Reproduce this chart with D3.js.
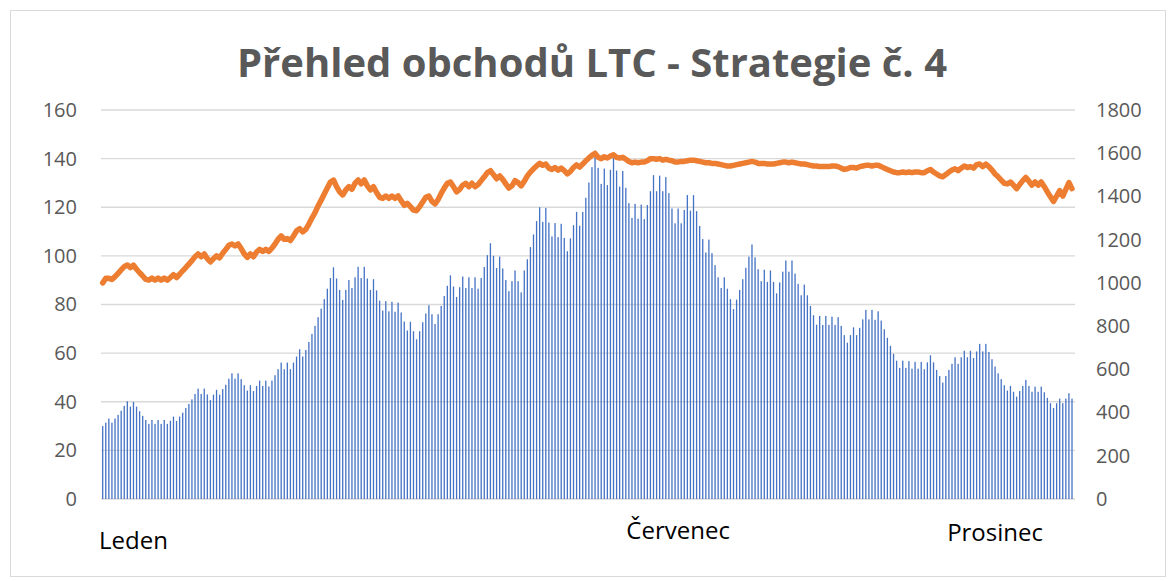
<!DOCTYPE html>
<html>
<head>
<meta charset="utf-8">
<script src="https://cdn.jsdelivr.net/npm/d3@7"></script>
<style>
  html, body { margin: 0; padding: 0; background: #fff; }
  svg { display: block; }
</style>
</head>
<body>
<svg id="chart" width="1171" height="581"></svg>
<script>
// ---------- DATA ----------
const title = "Přehled obchodů LTC - Strategie č. 4";

// LTC price (left axis), one value per day
const priceValues = [
  30.0, 31.4, 33.1, 31.4, 33.1, 34.6, 36.3, 38.3, 40.2, 38.0,
  39.9, 38.0, 36.1, 34.2, 32.5, 30.9, 32.5, 30.9, 32.5, 30.9,
  32.5, 30.9, 32.2, 33.9, 32.1, 33.9, 35.5, 37.4, 39.1, 41.0,
  43.2, 45.4, 43.2, 45.4, 43.0, 40.7, 42.9, 44.9, 42.9, 45.2,
  47.0, 49.5, 51.7, 49.5, 51.7, 49.3, 46.8, 44.6, 46.8, 44.4,
  46.5, 48.7, 46.5, 48.7, 46.3, 48.7, 50.9, 53.4, 56.1, 53.4,
  56.1, 53.4, 56.1, 58.6, 61.6, 58.6, 61.3, 64.6, 67.9, 71.2,
  74.8, 78.3, 82.2, 86.5, 90.9, 95.3, 90.7, 86.0, 81.9, 86.0,
  90.1, 86.8, 91.2, 95.5, 90.9, 95.5, 90.7, 86.0, 90.4, 85.8,
  81.6, 77.5, 81.4, 77.2, 81.1, 77.0, 80.8, 76.7, 73.0, 69.3,
  72.9, 69.0, 65.7, 69.0, 72.7, 76.3, 79.7, 76.0, 72.0, 76.0,
  79.4, 83.5, 87.7, 92.0, 87.4, 83.1, 87.1, 91.5, 86.8, 91.2,
  86.8, 91.2, 86.5, 90.9, 95.4, 100.3, 105.2, 100.0, 95.0, 99.7,
  94.8, 90.1, 85.5, 89.6, 94.0, 89.6, 85.0, 94.0, 98.6, 103.6,
  108.8, 114.3, 120.0, 114.0, 119.7, 113.7, 108.0, 113.5, 107.7, 113.2,
  107.4, 101.9, 107.2, 112.6, 118.1, 112.4, 118.1, 123.9, 130.2, 136.5,
  143.3, 136.2, 129.6, 135.9, 129.1, 135.4, 141.7, 135.1, 128.5, 134.9,
  128.0, 121.7, 115.6, 121.4, 115.3, 121.1, 115.1, 120.9, 126.6, 133.2,
  126.6, 133.0, 126.6, 132.4, 125.8, 119.5, 113.4, 119.5, 113.4, 118.9,
  125.0, 118.6, 125.0, 118.4, 112.3, 106.9, 101.4, 106.7, 101.1, 96.2,
  91.2, 86.8, 91.2, 86.5, 82.2, 78.1, 82.0, 86.0, 90.4, 95.1,
  99.7, 104.7, 99.4, 94.5, 89.6, 94.3, 89.3, 94.0, 89.3, 84.6,
  89.1, 93.5, 98.1, 93.5, 98.1, 92.7, 88.5, 83.8, 88.2, 83.8,
  79.4, 75.6, 71.7, 75.3, 71.6, 75.3, 71.6, 75.0, 71.6, 74.8,
  71.2, 67.4, 64.3, 67.4, 70.6, 67.4, 70.4, 73.9, 77.8, 73.9,
  77.8, 73.7, 77.2, 73.4, 69.8, 66.3, 63.0, 59.7, 56.9, 53.9,
  56.9, 53.9, 56.7, 53.6, 56.4, 53.6, 56.4, 53.4, 56.2, 59.1,
  56.2, 53.1, 50.6, 47.9, 50.6, 53.1, 55.6, 58.3, 55.6, 58.3,
  61.0, 58.3, 61.0, 58.0, 60.7, 63.8, 60.7, 63.8, 60.5, 57.5,
  54.5, 51.7, 49.3, 46.8, 44.6, 46.5, 44.1, 42.1, 44.4, 46.5,
  49.0, 46.5, 44.1, 46.2, 44.1, 46.2, 43.9, 41.6, 39.4, 37.4,
  39.4, 41.3, 39.4, 41.3, 43.5, 41.3
];

// Account balance (right axis)
const balanceValues = [
  1000, 1021, 1021, 1016, 1029, 1044, 1060, 1075, 1083, 1071,
  1082, 1063, 1047, 1032, 1016, 1013, 1022, 1013, 1022, 1013,
  1022, 1013, 1025, 1038, 1025, 1040, 1056, 1071, 1087, 1103,
  1121, 1134, 1121, 1134, 1112, 1097, 1112, 1125, 1116, 1137,
  1155, 1174, 1180, 1171, 1180, 1159, 1134, 1118, 1134, 1121,
  1143, 1155, 1146, 1155, 1146, 1161, 1180, 1202, 1217, 1202,
  1205, 1196, 1217, 1241, 1251, 1236, 1248, 1272, 1300, 1325,
  1356, 1383, 1411, 1439, 1467, 1476, 1445, 1421, 1407, 1430,
  1445, 1433, 1461, 1476, 1458, 1476, 1449, 1430, 1445, 1418,
  1396, 1391, 1402, 1391, 1402, 1391, 1402, 1380, 1359, 1368,
  1353, 1337, 1334, 1353, 1374, 1396, 1402, 1377, 1365, 1386,
  1414, 1439, 1461, 1467, 1445, 1421, 1433, 1452, 1461, 1445,
  1461, 1445, 1455, 1473, 1491, 1510, 1519, 1501, 1482, 1495,
  1479, 1458, 1439, 1449, 1473, 1464, 1449, 1470, 1495, 1513,
  1528, 1541, 1553, 1544, 1550, 1531, 1525, 1534, 1522, 1531,
  1519, 1504, 1516, 1534, 1546, 1536, 1550, 1565, 1578, 1590,
  1599, 1581, 1575, 1584, 1578, 1587, 1593, 1581, 1578, 1581,
  1572, 1562, 1556, 1559, 1556, 1559, 1559, 1565, 1575, 1575,
  1572, 1575, 1568, 1572, 1568, 1565, 1559, 1559, 1562, 1562,
  1565, 1568, 1568, 1565, 1562, 1559, 1556, 1556, 1553, 1553,
  1550, 1547, 1544, 1541, 1541, 1544, 1547, 1550, 1553, 1556,
  1559, 1562, 1559, 1553, 1553, 1553, 1550, 1550, 1550, 1553,
  1556, 1559, 1559, 1556, 1559, 1556, 1553, 1550, 1550, 1547,
  1544, 1541, 1541, 1538, 1538, 1538, 1538, 1541, 1541, 1538,
  1531, 1525, 1528, 1534, 1534, 1531, 1538, 1541, 1544, 1544,
  1541, 1544, 1544, 1538, 1531, 1525, 1519, 1513, 1510, 1510,
  1513, 1510, 1513, 1510, 1513, 1513, 1510, 1510, 1519, 1525,
  1513, 1504, 1495, 1491, 1501, 1513, 1522, 1528, 1519, 1531,
  1541, 1534, 1538, 1531, 1547, 1550, 1538, 1550, 1538, 1522,
  1504, 1491, 1476, 1461, 1458, 1467, 1452, 1436, 1455, 1473,
  1488, 1470, 1452, 1467, 1452, 1467, 1445, 1421, 1399, 1377,
  1402, 1427, 1402, 1433, 1464, 1436
];

// Category labels: only three days carry a month name
const monthNames = ["Leden", "Červenec", "Prosinec"];
const monthIndex = [10, 187, 290];
const categories = priceValues.map((_, i) => {
  const k = monthIndex.indexOf(i);
  return k >= 0 ? monthNames[k] : "";
});

const leftTicks = [0, 20, 40, 60, 80, 100, 120, 140, 160];
const rightTicks = [0, 200, 400, 600, 800, 1000, 1200, 1400, 1600, 1800];

// ---------- LAYOUT ----------
const plot = { left: 101, right: 1075, top: 110, bottom: 499 };
const svg = d3.select("#chart");

// outer chart border
svg.append("rect")
  .attr("x", 10.5).attr("y", 10.5)
  .attr("width", 1155).attr("height", 566)
  .attr("fill", "#fff").attr("stroke", "#d9d9d9").attr("stroke-width", 1);

const x = d3.scalePoint()
  .domain(d3.range(priceValues.length))
  .range([102.7, 1072]);
const yL = d3.scaleLinear().domain([0, 160]).range([plot.bottom, plot.top]);
const yR = d3.scaleLinear().domain([0, 1800]).range([plot.bottom, plot.top]);

// gridlines
svg.append("g")
  .selectAll("line")
  .data(leftTicks)
  .join("line")
  .attr("x1", plot.left).attr("x2", plot.right)
  .attr("y1", d => yL(d)).attr("y2", d => yL(d))
  .attr("stroke", "#d9d9d9").attr("stroke-width", 1.3);

// left axis
const leftAxis = d3.axisLeft(yL).tickValues(leftTicks).tickFormat(d3.format("d")).tickSize(0).tickPadding(0);
const gL = svg.append("g").attr("transform", "translate(77,0)").call(leftAxis);
gL.select(".domain").remove();
gL.selectAll("text")
  .attr("font-family", "'Open Sans', sans-serif")
  .attr("font-size", 20).attr("fill", "#595959");

// right axis
const rightAxis = d3.axisRight(yR).tickValues(rightTicks).tickFormat(d3.format("d")).tickSize(0).tickPadding(0);
const gR = svg.append("g").attr("transform", "translate(1096,0)").call(rightAxis);
gR.select(".domain").remove();
gR.selectAll("text")
  .attr("font-family", "'Open Sans', sans-serif")
  .attr("font-size", 20).attr("fill", "#595959");

// bars
const barW = 1.3;
svg.append("g")
  .selectAll("rect")
  .data(priceValues)
  .join("rect")
  .attr("x", (d, i) => x(i) - barW / 2)
  .attr("width", barW)
  .attr("y", d => yL(d))
  .attr("height", d => yL(0) - yL(d))
  .attr("fill", "#4472C4");

// balance line
const line = d3.line()
  .x((d, i) => x(i))
  .y(d => yR(d));
svg.append("path")
  .datum(balanceValues)
  .attr("d", line)
  .attr("fill", "none")
  .attr("stroke", "#ED7D31")
  .attr("stroke-width", 5.5)
  .attr("stroke-linejoin", "round")
  .attr("stroke-linecap", "round");

// category labels
const labelY = { "Leden": 549, "Červenec": 539, "Prosinec": 541 };
svg.append("g")
  .selectAll("text")
  .data(categories.map((c, i) => ({ c, i })).filter(d => d.c !== ""))
  .join("text")
  .attr("x", d => x(d.i))
  .attr("y", d => labelY[d.c])
  .attr("text-anchor", "middle")
  .attr("font-family", "'Open Sans', sans-serif")
  .attr("font-size", 24)
  .attr("fill", "#000")
  .text(d => d.c);

// title
svg.append("text")
  .attr("x", 592).attr("y", 77)
  .attr("text-anchor", "middle")
  .attr("font-family", "'Open Sans', sans-serif")
  .attr("font-weight", "bold")
  .attr("font-size", 40)
  .attr("fill", "#595959")
  .attr("textLength", 710)
  .attr("lengthAdjust", "spacingAndGlyphs")
  .text(title);
</script>
</body>
</html>
